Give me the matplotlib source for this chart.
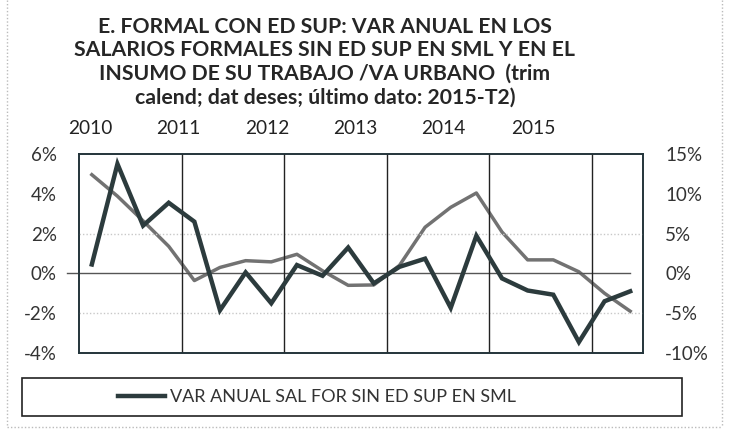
import matplotlib
matplotlib.use("Agg")
import matplotlib.pyplot as plt
from matplotlib.patches import Rectangle
from matplotlib.lines import Line2D
import numpy as np

# ---- data ----
quarters = ["2010-T1", "2010-T2", "2010-T3", "2010-T4",
            "2011-T1", "2011-T2", "2011-T3", "2011-T4",
            "2012-T1", "2012-T2", "2012-T3", "2012-T4",
            "2013-T1", "2013-T2", "2013-T3", "2013-T4",
            "2014-T1", "2014-T2", "2014-T3", "2014-T4",
            "2015-T1", "2015-T2"]
sal_sin_ed_sup = [0.45, 5.5, 2.4, 3.55, 2.6, -1.85, 0.05, -1.5, 0.42, -0.12, 1.3,
                  -0.5, 0.33, 0.74, -1.73, 1.89, -0.25, -0.86, -1.07, -3.45, -1.4, -0.9]
insumo_trabajo_va = [12.4, 9.7, 6.6, 3.4, -0.9, 0.75, 1.6, 1.45, 2.4, 0.33, -1.5,
                     -1.45, 1.0, 5.8, 8.3, 10.1, 5.2, 1.7, 1.7, 0.2, -2.5, -4.75]
years = ["2010", "2011", "2012", "2013", "2014", "2015"]
left_ticks = [-4, -2, 0, 2, 4, 6]
right_ticks = [-10, -5, 0, 5, 10, 15]
title = ("E. FORMAL CON ED SUP: VAR ANUAL EN LOS\n"
         "SALARIOS FORMALES SIN ED SUP EN SML Y EN EL\n"
         "INSUMO DE SU TRABAJO /VA URBANO  (trim\n"
         "calend; dat deses; último dato: 2015-T2)")
legend_label = "VAR ANUAL SAL FOR SIN ED SUP EN SML"

plt.rcParams['font.family'] = ['Lato', 'DejaVu Sans']

W, H = 729, 433
fig = plt.figure(figsize=(W / 100, H / 100), dpi=100)

def fx(px):
    return px / W

def fy(py):
    return 1 - py / H

x0, x1, y0, y1 = 79, 643, 154, 353
ax = fig.add_axes([fx(x0), fy(y1), fx(x1) - fx(x0), (y1 - y0) / H])
ax2 = ax.twinx()

x = np.arange(len(quarters))
dark = "#2c3b3d"
grey = "#727272"

ax.set_xlim(-0.5, len(quarters) - 0.5)
ax.set_ylim(-4, 6)
ax2.set_ylim(-10, 15)

# grid lines at +-2%
for v in [-2, 2]:
    ax.axhline(v, color="#c8c8c8", lw=1, ls=(0, (1, 1.5)), zorder=1)
# zero line extended slightly beyond left of plot
ax.plot([-0.97, len(quarters) - 1], [0, 0], color="#555555", lw=1.0,
        clip_on=False, zorder=2)
# year separators
for b in np.arange(3.5, len(quarters) - 1, 4):
    ax.axvline(b, color="#222222", lw=1.0, zorder=2)

ax2.plot(x, insumo_trabajo_va, color=grey, lw=2.5, zorder=3)
ax.plot(x, sal_sin_ed_sup, color=dark, lw=3.2, zorder=4, solid_joinstyle='miter')
ax.set_zorder(ax2.get_zorder() + 1)
ax.patch.set_visible(False)

ax.set_yticks(left_ticks)
ax.set_yticklabels([f"{t}%" for t in left_ticks])
ax2.set_yticks(right_ticks)
ax2.set_yticklabels([f"{t}%" for t in right_ticks])
ax.set_xticks([])
for a in (ax, ax2):
    a.tick_params(axis='y', length=0, labelsize=13.5, colors="#333333", pad=16)
    for s in a.spines.values():
        s.set_color("#23343a")
        s.set_linewidth(1.2)

# title
fig.text(fx(325), fy(62), title, ha="center", va="center", fontsize=15.3,
         fontweight="bold", color="#262626", linespacing=1.22)

# year labels above plot
year_px = [90, 178, 267, 355, 443, 533]
for yl, px in zip(years, year_px):
    fig.text(fx(px), fy(128), yl, ha="center", va="center", fontsize=13.8,
             color="#222222")

# legend box
fig.patches.append(Rectangle((fx(22), fy(416)), fx(682) - fx(22), (416 - 378) / H,
                             transform=fig.transFigure, fill=False,
                             edgecolor="#222222", lw=1.2))
handle = Line2D([], [], color=dark, lw=3.2)
fig.legend([handle], [legend_label], loc="center", bbox_to_anchor=(fx(317), fy(397)),
           frameon=False, fontsize=13.0, handlelength=2.6, handletextpad=0.3,
           labelcolor="#333333")

# outer dotted border
for (xa, ya, xb, yb) in [(7, 0, 7, 427), (722, 0, 722, 427), (7, 427, 722, 427)]:
    fig.add_artist(Line2D([fx(xa), fx(xb)], [fy(ya), fy(yb)], transform=fig.transFigure,
                          color="#bbbbbb", lw=1, ls=(0, (1, 1.5))))

fig.savefig("out.png", dpi=100)
